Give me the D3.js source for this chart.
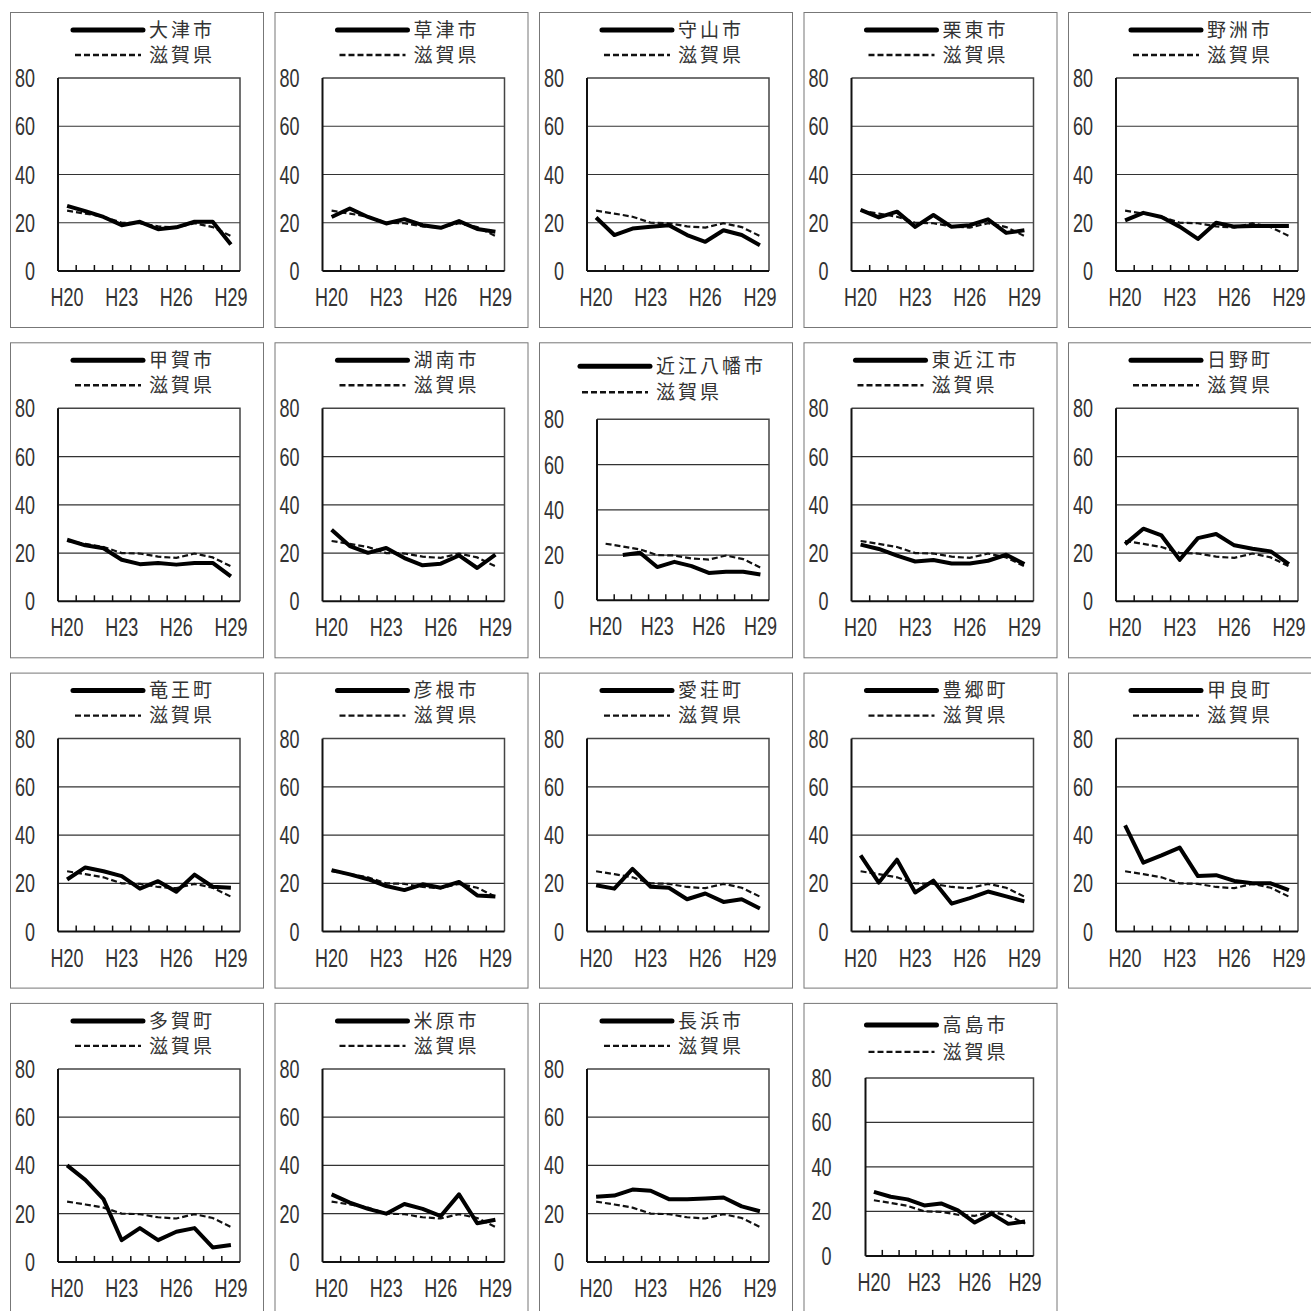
<!DOCTYPE html>
<html>
<head>
<meta charset="utf-8">
<script src="https://d3js.org/d3.v7.min.js"></script>
<style>
body { margin: 0; background: #fff; }
.num { font-family: "Liberation Sans", Arial, sans-serif; font-size: 25px; fill: #333; }
.jp { font-family: "Noto Sans CJK JP", sans-serif; font-size: 19px; letter-spacing: 3px; fill: #333; }
</style>
</head>
<body>
<div id="chart"></div>
<script>

// years on the x axis, and the ones that get a label
var years = ["H20", "H21", "H22", "H23", "H24", "H25", "H26", "H27", "H28", "H29"];
var labelYears = ["H20", "H23", "H26", "H29"];
var yTicks = [0, 20, 40, 60, 80];

var cities = ["大津市", "草津市", "守山市", "栗東市", "野洲市",
              "甲賀市", "湖南市", "近江八幡市", "東近江市", "日野町",
              "竜王町", "彦根市", "愛荘町", "豊郷町", "甲良町",
              "多賀町", "米原市", "長浜市", "高島市"];

// prefecture average, same dashed line in every panel
var shiga = [25, 23.8, 22.5, 20, 19.8, 18.5, 18, 19.8, 18.2, 14.5];

// city values, one row per city in the order above
var cityValues = [
  [27, 24.8, 22.4, 19, 20.4, 17.3, 18.1, 20.4, 20.4, 11],
  [22.4, 25.9, 22.4, 19.7, 21.5, 19, 17.9, 20.7, 17.4, 16.3],
  [22.2, 14.9, 17.6, 18.3, 19, 14.9, 12.1, 16.9, 14.9, 10.7],
  [25.3, 22.2, 24.6, 18.3, 23.2, 18.3, 19, 21.4, 15.8, 16.9],
  [21, 24.1, 22.4, 18.4, 13.3, 20, 18.4, 18.7, 18.7, 18.7],
  [25.5, 23.2, 22, 17.2, 15.4, 15.9, 15.2, 15.9, 15.9, 10.3],
  [29.7, 22.9, 20.1, 22.1, 17.9, 14.9, 15.6, 19, 13.8, 19.3],
  [null, 20, 21, 14.7, 17, 15.1, 12.1, 12.6, 12.6, 11.4],
  [23.5, 21.7, 18.9, 16.5, 17.1, 15.7, 15.7, 16.8, 19.3, 15.4],
  [23.7, 30.1, 27.3, 17.2, 26.2, 27.9, 23.2, 21.8, 20.7, 15.4],
  [21.6, 26.6, 25, 23, 17.8, 20.9, 16.5, 23.6, 18.6, 18.2],
  [25.5, 23.7, 21.7, 18.9, 17.2, 19.6, 18.2, 20.6, 15, 14.5],
  [19.2, 17.8, 26, 18.6, 18.2, 13.4, 15.8, 12.3, 13.4, 9.6],
  [31.6, 20.3, 29.8, 16.2, 21.1, 11.6, 13.9, 16.6, 14.6, 12.5],
  [44, 28.6, 31.6, 34.8, 23, 23.4, 21, 20, 20, 17.2],
  [40, 34, 26, 9, 14, 9, 12.5, 14, 6, 7],
  [28, 24.6, 22, 20, 24, 22, 19, 28, 16, 17.5],
  [27, 27.5, 30, 29.5, 26, 26, 26.3, 26.7, 23, 21],
  [28.8, 26.6, 25.4, 22.7, 23.6, 20.5, 15, 19, 14.4, 15.5]
];

// panel geometry
var boxW = 253, boxH = 315;
var narrow = 0.72;   // horizontal squeeze for the digit labels
var base = {left: 48, right: 230, top: 66, bottom: 259, leg1: 18, leg2: 43, ylab: 25};
var special = {
  "近江八幡市": {left: 58, right: 230, top: 77, bottom: 258, leg1: 24, leg2: 50, ylab: 25},
  "高島市": {left: 62, right: 230, top: 75, bottom: 253, leg1: 22, leg2: 49, ylab: 28}
};

var svg = d3.select("#chart")
  .append("svg")
    .attr("width", 1311)
    .attr("height", 1311);

cities.forEach(function(name, i) {
  var col = i % 5, row = Math.floor(i / 5);
  var bx = 10 + col * 264.5, by = 12 + row * 330.3;
  var g = Object.assign({}, base, special[name] || {});

  var panel = svg.append("g")
    .attr("transform", "translate(" + bx + "," + by + ")");

  panel.append("rect")
    .attr("x", 0.5).attr("y", 0.5)
    .attr("width", boxW).attr("height", boxH)
    .attr("fill", "#fff")
    .attr("stroke", "#777");

  var x = d3.scaleBand().domain(years).range([g.left, g.right]).padding(0);
  var y = d3.scaleLinear().domain([0, 80]).range([g.bottom, g.top]);

  // gridlines
  panel.append("g").selectAll("line")
    .data(yTicks.filter(function(t) { return t > 0 && t < 80; }))
    .enter().append("line")
      .attr("x1", g.left).attr("x2", g.right)
      .attr("y1", function(d) { return y(d); })
      .attr("y2", function(d) { return y(d); })
      .attr("stroke", "#333")
      .attr("stroke-width", 1.2);

  // plot frame (top and right)
  panel.append("path")
    .attr("d", "M" + g.left + "," + y(80) + "H" + g.right + "V" + y(0))
    .attr("fill", "none")
    .attr("stroke", "#444")
    .attr("stroke-width", 1.5);

  // y axis line and narrow labels
  panel.append("line")
    .attr("x1", g.left).attr("x2", g.left)
    .attr("y1", y(80)).attr("y2", y(0))
    .attr("stroke", "#111").attr("stroke-width", 2);
  panel.append("g").selectAll("text")
    .data(yTicks)
    .enter().append("text")
      .attr("class", "num")
      .attr("transform", function(d) { return "translate(" + g.ylab + "," + y(d) + ") scale(" + narrow + ",1)"; })
      .attr("dy", "0.36em")
      .attr("text-anchor", "end")
      .text(function(d) { return d; });

  // x axis: line, inward ticks on category boundaries, labels
  panel.append("line")
    .attr("x1", g.left).attr("x2", g.right)
    .attr("y1", y(0)).attr("y2", y(0))
    .attr("stroke", "#111").attr("stroke-width", 2);
  panel.append("g").selectAll("line")
    .data(years.slice(1))
    .enter().append("line")
      .attr("x1", function(d) { return x(d); })
      .attr("x2", function(d) { return x(d); })
      .attr("y1", y(0)).attr("y2", y(0) - 6)
      .attr("stroke", "#111").attr("stroke-width", 1.5);
  panel.append("g").selectAll("text")
    .data(labelYears)
    .enter().append("text")
      .attr("class", "num")
      .attr("transform", function(d) {
        return "translate(" + (x(d) + x.bandwidth() / 2) + "," + (y(0) + 26) + ") scale(" + narrow + ",1)";
      })
      .attr("dy", "0.36em")
      .attr("text-anchor", "middle")
      .text(function(d) { return d; });

  var line = d3.line()
    .defined(function(d) { return d != null; })
    .x(function(d, j) { return x(years[j]) + x.bandwidth() / 2; })
    .y(function(d) { return y(d); });

  panel.append("path")
    .datum(shiga)
    .attr("fill", "none")
    .attr("stroke", "#111")
    .attr("stroke-width", 2.2)
    .attr("stroke-dasharray", "6,3")
    .attr("d", line);

  panel.append("path")
    .datum(cityValues[i])
    .attr("fill", "none")
    .attr("stroke", "#000")
    .attr("stroke-width", 4)
    .attr("stroke-linejoin", "round")
    .attr("d", line);

  // legend, centred on a fixed point of the box
  var leg = panel.append("g");
  leg.append("line")
    .attr("x1", 0).attr("x2", 70)
    .attr("y1", g.leg1).attr("y2", g.leg1)
    .attr("stroke", "#000").attr("stroke-width", 5).attr("stroke-linecap", "round");
  leg.append("line")
    .attr("x1", 2).attr("x2", 68)
    .attr("y1", g.leg2).attr("y2", g.leg2)
    .attr("stroke", "#111").attr("stroke-width", 2.4).attr("stroke-dasharray", "6,3");
  var t1 = leg.append("text").attr("class", "jp")
    .attr("x", 76).attr("y", g.leg1).attr("dy", "0.36em").text(name);
  leg.append("text").attr("class", "jp")
    .attr("x", 76).attr("y", g.leg2).attr("dy", "0.36em").text("滋賀県");
  var w = 76 + t1.node().getComputedTextLength();
  leg.attr("transform", "translate(" + (134 - w / 2) + ",0)");
});

</script>
</body>
</html>
